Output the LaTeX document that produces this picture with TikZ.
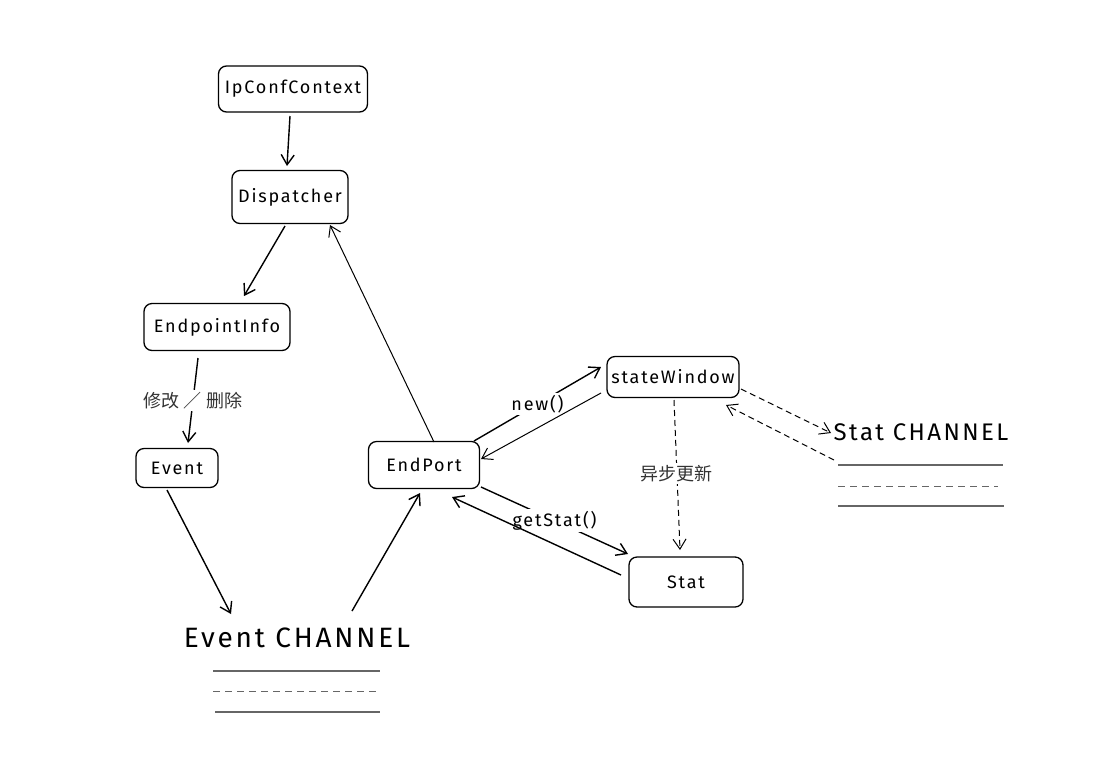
\documentclass[tikz,border=0pt]{standalone}
\usepackage{fontspec}
\setmainfont{Fira Sans}[LetterSpace=10]
\newfontfamily\cjk{Noto Sans CJK SC}
\usetikzlibrary{arrows.meta}
\begin{document}
\begin{tikzpicture}[x=1pt,y=-1pt,
  box/.style={draw,line width=1.3pt,rounded corners=8pt,inner sep=0pt,font=\fontsize{18}{20}\selectfont},
  conn/.style={line width=1.4pt,-{Straight Barb[length=10pt,width=13pt,line width=1.4pt]}},
  thinconn/.style={line width=1pt,-{Straight Barb[length=10pt,width=13pt,line width=1pt]}},
  dconn/.style={line width=1pt,dash pattern=on 6pt off 4pt,-{Straight Barb[length=10pt,width=13pt,line width=1pt]}},
  lbl/.style={fill=white,inner sep=2pt,font=\fontsize{18}{20}\selectfont},
  clbl/.style={fill=white,inner sep=2pt,font=\cjk\fontsize{18}{20}\selectfont,text=black!80},
  chan/.style={line width=1.3pt,black!60},
]
\useasboundingbox (0,0) rectangle (1107,780);
\fill[white] (0,0) rectangle (1107,780);

\node[box,minimum width=149pt,minimum height=46pt] (ipc) at (293,89) {IpConfContext};
\node[box,minimum width=116pt,minimum height=53pt] (disp) at (290,197) {Dispatcher};
\node[box,minimum width=146pt,minimum height=47pt] (epi) at (217,327) {EndpointInfo};
\node[box,minimum width=82pt,minimum height=39pt] (evt) at (177,468) {Event};
\node[box,minimum width=111pt,minimum height=47pt] (ep) at (424,465) {EndPort};
\node[box,minimum width=132pt,minimum height=41pt] (sw) at (673,377) {stateWindow};
\node[box,minimum width=114pt,minimum height=50pt] (st) at (686,582) {Stat};

\node[inner sep=0pt,font=\fontsize{24}{27}\selectfont] (schan) at (921,432) {Stat CHANNEL};
\node[inner sep=0pt,font=\fontsize{28}{32}\selectfont] (echan) at (297,638) {Event CHANNEL};

% channel lines
\draw[chan] (838,465) -- (1003,465);
\draw[chan,line width=1pt,dash pattern=on 7pt off 5pt] (838,486) -- (998,486);
\draw[chan] (838,506) -- (1004,506);
\draw[chan] (213,671) -- (380,671);
\draw[chan,line width=1pt,dash pattern=on 7pt off 5pt] (213,691) -- (380,691);
\draw[chan] (215,712) -- (380,712);

% anchor coordinates
\coordinate (a1) at (290,116); \coordinate (a2) at (287,166);
\coordinate (b1) at (285,226); \coordinate (b2) at (244,296);
\coordinate (c1) at (198,358); \coordinate (c2) at (188,443);
\coordinate (d1) at (167,490); \coordinate (d2) at (231,614);
\coordinate (e1) at (352,611); \coordinate (e2) at (420,493);
\coordinate (f1) at (434,442); \coordinate (f2) at (330,225);
\coordinate (g1) at (474,441); \coordinate (g2) at (601,367);
\coordinate (h1) at (601,393); \coordinate (h2) at (481,459);
\coordinate (i1) at (481,487); \coordinate (i2) at (628,554);
\coordinate (j1) at (621,575); \coordinate (j2) at (452,497);
\coordinate (k1) at (674,400); \coordinate (k2) at (680,550);
\coordinate (l1) at (741,389); \coordinate (l2) at (831,433);
\coordinate (m1) at (834,460); \coordinate (m2) at (726,405);

\draw[conn] (a1) -- (a2);
\draw[conn] (b1) -- (b2);
\draw[conn] (c1) -- node[clbl] {修改 ／ 删除} (c2);
\draw[conn] (d1) -- (d2);
\draw[conn] (e1) -- (e2);
\draw[thinconn] (f1) -- (f2);
\draw[conn] (g1) -- node[lbl,pos=0.5] {new()} (g2);
\draw[thinconn] (h1) -- (h2);
\draw[conn] (i1) -- node[lbl,pos=0.5] {getStat()} (i2);
\draw[conn] (j1) -- (j2);
\draw[dconn] (k1) -- node[clbl,pos=0.49] {异步更新} (k2);
\draw[dconn] (l1) -- (l2);
\draw[dconn] (m1) -- (m2);
\end{tikzpicture}
\end{document}
